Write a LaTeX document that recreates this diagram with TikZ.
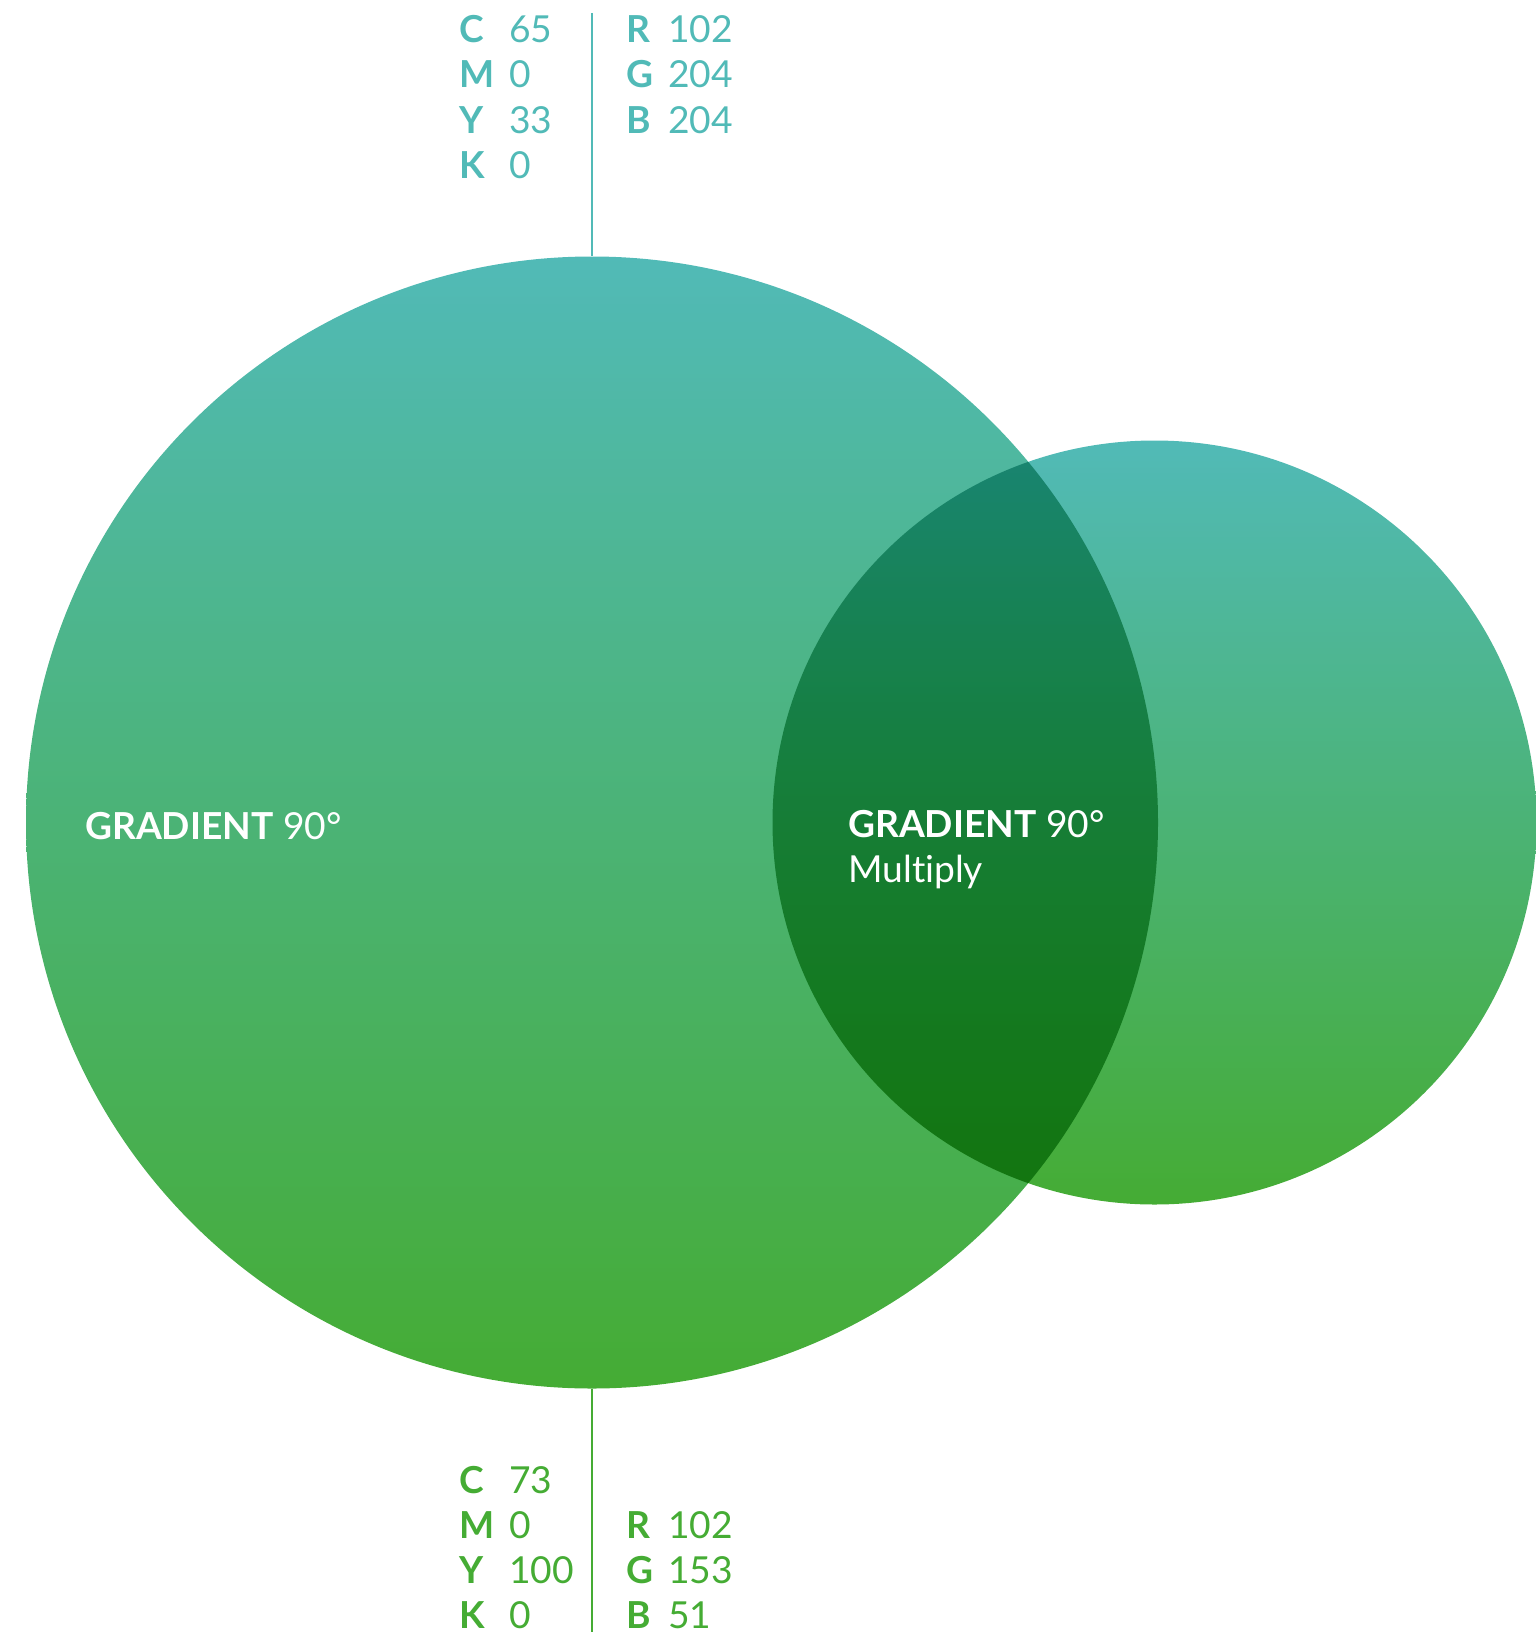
\documentclass[tikz,border=0pt]{standalone}
\usepackage{fontspec}
\setmainfont{Lato}[Ligatures=NoCommon]
\definecolor{teal}{RGB}{81,186,183}
\definecolor{leaf}{RGB}{69,172,52}
\newcommand{\lbl}[2]{\makebox[50pt][l]{\bfseries #1}#2}
\newcommand{\rgbl}[2]{\makebox[42pt][l]{\bfseries #1}#2}
\begin{document}
\begin{tikzpicture}[
x=1pt,y=-1pt,
blob/.style={%
circle,
inner sep=0pt,
shade,
top color=teal,
bottom color=leaf
},
num/.style={%
anchor=base west,
inner sep=0pt,
font=\fontsize{37.2}{45}\selectfont
},
caption/.style={%
num,
text=white
}
]
\useasboundingbox(0,0)rectangle(1535,1635);
%% Circles
\node[blob,minimum size=1132pt]at(592,822.5)(big){};
\node[blob,minimum size=764pt,blend mode=multiply]at(1154.5,822.5)(small){};
%% Labels inside
\node[caption]at(85,839)(capL){\textbf{GRADIENT} 90°};
\node[caption]at(848,837)(capR){\textbf{GRADIENT} 90°};
\node[caption]at(848,882)(capM){Multiply};
%% Top values
\coordinate(topend)at(592,13);
\draw[teal,line width=2.2pt](topend)--(big.north);
\node[num,text=teal]at(459,43)(tC){\lbl{C}{65}};
\node[num,text=teal]at(459,88)(tM){\lbl{M}{0}};
\node[num,text=teal]at(459,133)(tY){\lbl{Y}{33}};
\node[num,text=teal]at(459,178)(tK){\lbl{K}{0}};
\node[num,text=teal]at(626,43)(tR){\rgbl{R}{102}};
\node[num,text=teal]at(626,88)(tG){\rgbl{G}{204}};
\node[num,text=teal]at(626,133)(tB){\rgbl{B}{204}};
%% Bottom values
\coordinate(botend)at(592,1632);
\draw[leaf,line width=2.2pt](big.south)--(botend);
\node[num,text=leaf]at(459,1493)(bC){\lbl{C}{73}};
\node[num,text=leaf]at(459,1538)(bM){\lbl{M}{0}};
\node[num,text=leaf]at(459,1583)(bY){\lbl{Y}{100}};
\node[num,text=leaf]at(459,1628)(bK){\lbl{K}{0}};
\node[num,text=leaf]at(626,1538)(bR){\rgbl{R}{102}};
\node[num,text=leaf]at(626,1583)(bG){\rgbl{G}{153}};
\node[num,text=leaf]at(626,1628)(bB){\rgbl{B}{51}};
\end{tikzpicture}
\end{document}
